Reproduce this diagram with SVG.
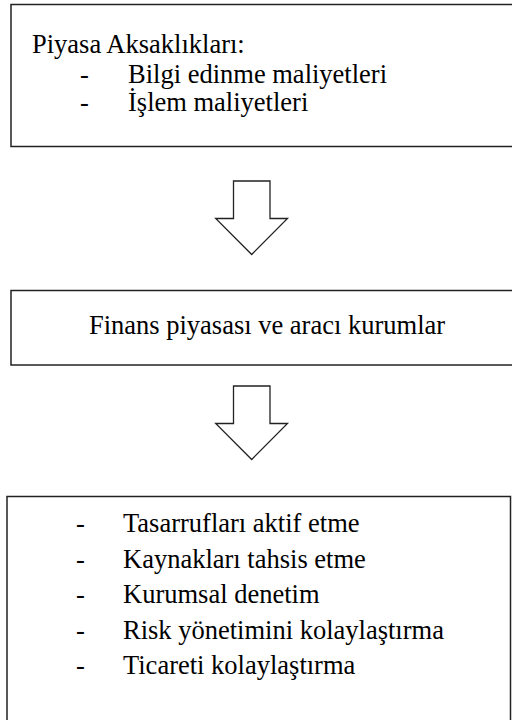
<svg xmlns="http://www.w3.org/2000/svg" width="512" height="720" viewBox="0 0 512 720">
<style>
.box{fill:#fff;stroke:#222;stroke-width:1.5}
.arrow{fill:#fff;stroke:#222;stroke-width:1.3;stroke-linejoin:miter}
text{font-family:"Liberation Serif","Times New Roman","DejaVu Serif",serif;font-size:26.5px;fill:#000}
</style>
<rect width="512" height="720" fill="#fff"/>
<g id="node-aksakliklar">
<rect class="box" x="11" y="4.5" width="520" height="142"/>
<text x="32" y="53">Piyasa Aksaklıkları:</text>
<text x="80" y="83">-</text>
<text x="128" y="83">Bilgi edinme maliyetleri</text>
<text x="80" y="111">-</text>
<text x="128" y="111">İşlem maliyetleri</text>
</g>
<g id="node-finans">
<rect class="box" x="11" y="290.5" width="520" height="74.5"/>
<text x="267" y="334" text-anchor="middle">Finans piyasası ve aracı kurumlar</text>
</g>
<g id="node-islevler">
<rect class="box" x="7" y="496.5" width="503.5" height="240"/>
<text x="76" y="532">-</text>
<text x="123" y="532">Tasarrufları aktif etme</text>
<text x="76" y="567.5">-</text>
<text x="123" y="567.5">Kaynakları tahsis etme</text>
<text x="76" y="603">-</text>
<text x="123" y="603">Kurumsal denetim</text>
<text x="76" y="638.5">-</text>
<text x="123" y="638.5">Risk yönetimini kolaylaştırma</text>
<text x="76" y="674">-</text>
<text x="123" y="674">Ticareti kolaylaştırma</text>
</g>
<g id="connectors">
<polygon class="arrow" points="233.5,181 270,181 270,218.5 287.5,218.5 251.7,254.5 215.7,218.5 233.5,218.5"/>
<polygon class="arrow" points="233.5,386 270,386 270,423.5 287.5,423.5 251.7,459.5 215.7,423.5 233.5,423.5"/>
</g>
</svg>
